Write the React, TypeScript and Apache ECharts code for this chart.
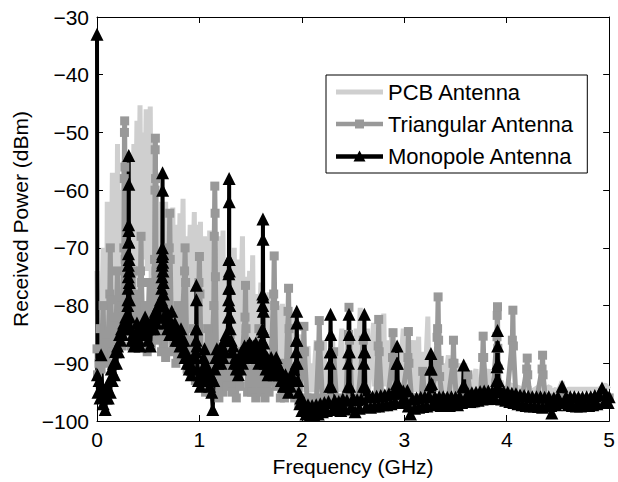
import React, { useEffect, useRef } from "react";
import * as echarts from "echarts";

const FONT = "'Liberation Sans', Arial, Helvetica, sans-serif";

const seriesNames = ["PCB Antenna", "Triangular Antenna", "Monopole Antenna"];
const xRange = [0, 5];
const yRange = [-100, -30];
const xStep = 1;
const yStep = 10;
const axisTitles = ["Frequency (GHz)", "Received Power (dBm)"];

// [frequency GHz, received power dBm]
const pcbLow = [
  [0, -74], [0.008, -88], [0.015, -80], [0.025, -90], [0.03, -78], [0.04, -88], [0.06, -70], [0.07, -86],
  [0.085, -75], [0.095, -87], [0.1, -62], [0.11, -84], [0.125, -70], [0.135, -85], [0.15, -57], [0.16, -82],
  [0.18, -64], [0.19, -84], [0.2, -52], [0.21, -80], [0.23, -60], [0.24, -82], [0.26, -55], [0.27, -80],
  [0.29, -62], [0.3, -82], [0.33, -58], [0.34, -80], [0.36, -52], [0.37, -78], [0.39, -48], [0.4, -76],
  [0.42, -45.3], [0.43, -70], [0.45, -50], [0.46, -72], [0.48, -46], [0.49, -74], [0.52, -45.5], [0.53, -78],
  [0.55, -60], [0.56, -80], [0.58, -57], [0.59, -80], [0.61, -62], [0.62, -82], [0.64, -66], [0.65, -80],
  [0.67, -62], [0.68, -82], [0.71, -64], [0.72, -84], [0.74, -63], [0.75, -82], [0.78, -66], [0.79, -84],
  [0.81, -64], [0.82, -86], [0.84, -61.5], [0.85, -84], [0.87, -68], [0.88, -86], [0.91, -66], [0.92, -88],
  [0.95, -63.8], [0.96, -86], [0.98, -66], [0.99, -88],
];
const pcbMid = [
  [1.01, -65.5], [1.02, -86], [1.05, -68], [1.06, -88], [1.08, -72], [1.09, -88], [1.1, -67], [1.11, -90],
  [1.13, -72], [1.14, -88], [1.17, -70], [1.18, -90], [1.2, -68], [1.21, -88], [1.23, -67], [1.24, -90],
  [1.26, -73], [1.27, -90], [1.3, -75], [1.31, -92], [1.34, -70], [1.35, -90], [1.38, -72], [1.39, -92],
  [1.42, -68], [1.43, -90], [1.45, -75], [1.46, -92], [1.49, -74], [1.5, -91], [1.52, -71.3], [1.53, -92],
  [1.56, -78], [1.57, -92], [1.6, -76], [1.61, -93], [1.64, -80], [1.65, -93], [1.68, -77.7], [1.69, -93],
  [1.72, -82], [1.73, -94], [1.76, -80], [1.77, -94], [1.81, -79.7], [1.82, -94], [1.85, -84], [1.86, -95],
  [1.9, -82], [1.91, -95], [1.94, -86], [1.95, -95], [1.98, -85], [1.99, -95],
];
const pcbHigh = [
  [2.02, -88], [2.03, -95], [2.06, -87], [2.07, -95], [2.1, -90], [2.11, -95], [2.14, -86], [2.15, -95],
  [2.18, -89], [2.19, -95], [2.22, -86], [2.23, -95], [2.26, -90], [2.27, -95], [2.3, -85], [2.31, -95],
  [2.34, -88], [2.35, -95], [2.39, -84], [2.4, -95], [2.43, -89], [2.44, -95], [2.5, -86], [2.51, -95],
  [2.53, -84], [2.54, -95], [2.57, -80.4], [2.58, -94], [2.6, -86], [2.61, -95], [2.64, -84], [2.65, -95],
  [2.7, -83], [2.71, -94], [2.74, -88], [2.75, -95], [2.8, -81.4], [2.81, -94], [2.84, -86], [2.85, -95],
  [2.88, -84], [2.89, -95], [2.94, -88], [2.95, -95], [2.99, -84], [3, -94], [3.04, -89], [3.05, -95],
  [3.09, -86], [3.1, -95], [3.14, -85.4], [3.15, -95], [3.19, -88], [3.2, -95], [3.23, -81.9], [3.24, -94],
  [3.28, -88], [3.29, -95], [3.33, -86], [3.34, -95], [3.38, -90], [3.39, -95], [3.43, -88.6], [3.44, -95],
  [3.48, -91], [3.49, -95], [3.53, -90], [3.54, -95], [3.59, -90], [3.6, -95], [3.64, -92], [3.65, -95],
  [3.7, -91], [3.71, -95], [3.76, -92], [3.77, -95], [3.82, -91], [3.83, -95], [3.88, -92.5], [3.89, -95],
  [3.95, -93], [3.96, -95], [4.04, -93.5], [4.05, -95], [4.12, -94], [4.13, -95], [4.22, -94], [4.23, -95],
  [4.32, -94], [4.33, -95], [4.42, -94], [4.43, -95], [4.48, -94.5], [4.5, -95], [4.54, -93.2], [4.56, -95],
  [4.6, -94.5], [4.7, -94.5], [4.8, -94.5], [4.9, -94.5], [4.96, -93.7], [5, -94.5],
];

const triLow = [
  [0, -87.5], [0.005, -92], [0.02, -90], [0.03, -84], [0.04, -91], [0.06, -80], [0.07, -89], [0.09, -85],
  [0.1, -90], [0.125, -78], [0.13, -70], [0.135, -79], [0.15, -88], [0.17, -82], [0.18, -88], [0.2, -74],
  [0.21, -86], [0.23, -80], [0.24, -87], [0.262, -70], [0.266, -58], [0.268, -50], [0.27, -48], [0.272, -56],
  [0.275, -72], [0.29, -84], [0.31, -80], [0.33, -87], [0.35, -74], [0.37, -86], [0.39, -78], [0.41, -85],
  [0.425, -74], [0.43, -68], [0.435, -76], [0.45, -86], [0.47, -80], [0.49, -88], [0.51, -76], [0.53, -87],
  [0.562, -72], [0.566, -60], [0.568, -53], [0.57, -51], [0.572, -58], [0.576, -74], [0.59, -86], [0.61, -80],
  [0.63, -88], [0.65, -78], [0.67, -89], [0.69, -80], [0.705, -70], [0.71, -64], [0.715, -72], [0.73, -88],
  [0.75, -82], [0.77, -90], [0.79, -80], [0.81, -89], [0.83, -84], [0.855, -74], [0.86, -70], [0.865, -76],
  [0.88, -91], [0.9, -86], [0.92, -92], [0.94, -84], [0.96, -93], [0.98, -88], [0.995, -76], [1, -71.5],
  [1.005, -78],
];
const triMid = [
  [1.02, -93], [1.04, -89], [1.06, -95], [1.08, -84], [1.1, -95], [1.12, -90], [1.14, -80], [1.145, -68],
  [1.15, -59.3], [1.153, -64], [1.156, -75], [1.17, -92], [1.19, -96], [1.21, -90], [1.23, -95], [1.25, -88],
  [1.27, -94], [1.3, -85], [1.32, -95], [1.34, -91], [1.36, -96], [1.38, -90], [1.4, -94], [1.42, -88],
  [1.445, -82], [1.45, -76.5], [1.455, -84], [1.47, -95], [1.49, -91], [1.51, -95], [1.53, -89], [1.55, -96],
  [1.58, -84], [1.6, -95], [1.62, -92], [1.64, -96], [1.66, -91], [1.68, -95], [1.7, -89], [1.725, -78],
  [1.73, -71.4], [1.735, -80], [1.75, -94], [1.77, -90], [1.79, -96], [1.81, -92], [1.83, -96], [1.85, -90],
  [1.865, -81], [1.87, -77], [1.875, -84], [1.89, -95], [1.91, -93], [1.93, -96], [1.95, -94], [1.97, -97],
];
const triHigh = [
  [2.015, -88], [2.02, -83.6], [2.025, -88], [2.05, -96], [2.08, -97], [2.11, -96], [2.14, -97], [2.165, -87],
  [2.17, -82.6], [2.175, -87], [2.2, -96], [2.23, -97], [2.26, -96], [2.31, -88], [2.34, -97], [2.37, -96],
  [2.4, -97], [2.43, -96], [2.455, -85], [2.46, -80.3], [2.465, -86], [2.49, -96.5], [2.52, -97], [2.55, -96],
  [2.6, -86], [2.63, -96.5], [2.66, -97], [2.69, -96], [2.72, -96.5], [2.745, -87], [2.75, -82.4], [2.755, -88],
  [2.78, -96], [2.81, -97], [2.84, -96], [2.885, -89], [2.89, -84.7], [2.895, -89], [2.92, -96], [2.95, -97],
  [2.98, -96], [3.035, -89], [3.04, -84.5], [3.045, -90], [3.07, -96], [3.1, -97], [3.13, -96], [3.16, -97],
  [3.18, -91.4], [3.2, -96.5], [3.23, -97], [3.26, -96], [3.3, -92], [3.32, -85.5], [3.325, -84], [3.33, -78.5],
  [3.335, -86], [3.34, -89.5], [3.345, -92.3], [3.37, -96], [3.4, -97], [3.43, -96], [3.475, -90], [3.48, -86],
  [3.485, -90], [3.51, -96.5], [3.54, -97], [3.57, -96], [3.62, -92], [3.65, -96.5], [3.68, -97], [3.71, -96],
  [3.74, -96.5], [3.765, -89], [3.77, -85.3], [3.775, -89], [3.8, -96], [3.83, -96.5], [3.86, -96], [3.905, -85.4],
  [3.907, -81.7], [3.91, -80.2], [3.913, -87.4], [3.917, -91], [3.94, -96], [3.97, -96.5], [4, -96], [4.055, -86],
  [4.06, -80.8], [4.065, -87], [4.09, -96], [4.12, -96.5], [4.15, -96], [4.195, -91], [4.2, -89.1], [4.205, -92],
  [4.23, -96.5], [4.26, -96], [4.29, -96.5], [4.345, -91], [4.35, -88.6], [4.355, -92], [4.38, -96.5], [4.42, -96],
  [4.46, -96.5], [4.5, -96], [4.55, -96], [4.6, -96.5], [4.65, -96.5], [4.7, -96], [4.75, -96.5], [4.8, -96.5],
  [4.85, -96], [4.9, -96], [4.95, -96.5], [5, -96],
];

const monoLow = [
  [0, -33], [0.004, -92], [0.01, -95], [0.02, -93], [0.03, -96], [0.04, -88.5], [0.05, -94], [0.06, -97],
  [0.07, -95], [0.08, -98], [0.09, -96], [0.1, -94], [0.11, -96], [0.12, -93], [0.13, -95], [0.14, -91],
  [0.15, -93], [0.16, -90], [0.17, -92], [0.18, -88], [0.19, -90], [0.2, -87], [0.21, -88], [0.22, -85],
  [0.23, -86], [0.24, -84], [0.25, -85], [0.26, -83], [0.27, -84], [0.28, -82], [0.29, -83], [0.3, -80],
  [0.302, -79], [0.304, -77], [0.305, -75], [0.306, -73], [0.307, -71], [0.308, -69], [0.309, -66], [0.31, -54],
  [0.3105, -59], [0.311, -67], [0.312, -69], [0.313, -72], [0.314, -74], [0.315, -76], [0.317, -79], [0.32, -82],
  [0.33, -84], [0.34, -86], [0.35, -85], [0.36, -87], [0.37, -86], [0.38, -85],
  [0.39, -83], [0.4, -84], [0.41, -86], [0.42, -87], [0.43, -85], [0.44, -84], [0.45, -83], [0.46, -85],
  [0.47, -82], [0.48, -84], [0.49, -83], [0.5, -86], [0.51, -84], [0.52, -87], [0.53, -83], [0.54, -84],
  [0.55, -82], [0.56, -84], [0.57, -81], [0.58, -83], [0.59, -82], [0.6, -80], [0.61, -82], [0.62, -79],
  [0.63, -79], [0.632, -77], [0.634, -75], [0.636, -73], [0.637, -71.5], [0.638, -70], [0.64, -57], [0.6405, -60],
  [0.641, -71], [0.642, -72.5], [0.644, -74], [0.646, -76], [0.648, -78], [0.65, -80],
  [0.66, -82], [0.67, -83], [0.68, -81], [0.69, -84], [0.7, -82], [0.71, -85], [0.72, -83], [0.73, -81],
  [0.74, -84], [0.75, -85], [0.76, -83], [0.77, -86], [0.78, -84], [0.79, -86], [0.8, -85], [0.81, -87],
  [0.82, -84], [0.83, -86], [0.84, -88], [0.85, -86], [0.86, -89], [0.87, -88], [0.88, -90], [0.89, -89],
  [0.9, -91], [0.91, -90], [0.92, -92], [0.93, -91], [0.94, -89], [0.965, -88], [0.967, -86], [0.968, -84],
  [0.97, -76.5], [0.971, -79], [0.973, -84], [0.975, -87], [0.98, -91], [0.99, -93],
];
const monoMid = [
  [1, -92], [1.01, -94], [1.02, -93], [1.03, -91], [1.04, -89], [1.05, -87.5], [1.06, -90], [1.07, -92],
  [1.08, -91], [1.09, -93], [1.1, -94], [1.11, -92], [1.12, -95], [1.13, -98], [1.14, -93], [1.15, -91],
  [1.16, -89], [1.17, -87.5], [1.18, -90], [1.19, -89], [1.2, -88], [1.21, -90], [1.22, -87], [1.23, -89],
  [1.24, -86], [1.25, -88], [1.26, -85], [1.27, -86], [1.283, -82], [1.285, -79], [1.286, -77], [1.287, -74.5],
  [1.288, -72], [1.29, -58], [1.2905, -62], [1.291, -72], [1.292, -74], [1.294, -77], [1.296, -80], [1.298, -82],
  [1.3, -84], [1.31, -86], [1.32, -88], [1.33, -87], [1.34, -90],
  [1.35, -89], [1.36, -91], [1.37, -90], [1.38, -92], [1.39, -89], [1.4, -91], [1.41, -88], [1.42, -90],
  [1.43, -89], [1.44, -87], [1.45, -89], [1.46, -88], [1.47, -87], [1.48, -89], [1.49, -86.5], [1.5, -88],
  [1.51, -87], [1.52, -89], [1.53, -87], [1.54, -88], [1.55, -86.5], [1.56, -89], [1.57, -88], [1.58, -90],
  [1.59, -89], [1.6, -88], [1.613, -86], [1.615, -84], [1.617, -80], [1.618, -78], [1.62, -65], [1.6205, -68.5],
  [1.622, -78.5], [1.624, -81], [1.626, -84.5], [1.628, -86.5], [1.63, -88], [1.64, -90], [1.65, -91], [1.66, -89],
  [1.67, -92], [1.68, -90], [1.69, -91],
  [1.7, -89], [1.71, -91], [1.72, -90], [1.73, -92], [1.74, -90], [1.75, -89], [1.76, -90], [1.77, -91],
  [1.78, -92], [1.79, -91], [1.8, -93], [1.81, -92], [1.82, -94], [1.83, -93], [1.84, -92], [1.85, -94],
  [1.86, -93], [1.87, -95], [1.88, -93], [1.89, -94], [1.9, -92], [1.91, -93], [1.92, -91], [1.944, -90],
  [1.946, -88], [1.947, -86], [1.95, -81], [1.951, -83], [1.952, -86], [1.955, -90], [1.96, -93], [1.97, -95],
  [1.98, -97], [1.99, -96],
];
const monoHigh = [
  [2, -98.2], [2.02, -96.8], [2.04, -98.8], [2.06, -97.2], [2.08, -99], [2.1, -97.3], [2.12, -99], [2.14, -97.2],
  [2.16, -98.8], [2.18, -97], [2.2, -98.4], [2.22, -96.8], [2.24, -98.2], [2.26, -96.6], [2.272, -94], [2.275, -90],
  [2.277, -88], [2.28, -81.5], [2.282, -85], [2.284, -88], [2.287, -94], [2.3, -98], [2.32, -96.4], [2.34, -98],
  [2.36, -96.6], [2.38, -98.2], [2.4, -96.2], [2.42, -97.9], [2.44, -96.4], [2.452, -94], [2.455, -90], [2.457, -88],
  [2.46, -81.5], [2.462, -85], [2.464, -88], [2.467, -94], [2.48, -97.6], [2.5, -96], [2.52, -98.4], [2.54, -96.3],
  [2.56, -97.8], [2.58, -96.2], [2.602, -94], [2.605, -90], [2.607, -88], [2.61, -81.5], [2.612, -85], [2.614, -88],
  [2.617, -94], [2.63, -97.5], [2.65, -95.6], [2.67, -97.6], [2.69, -95.8], [2.71, -97.4], [2.73, -95.7], [2.75, -97.4],
  [2.77, -95.6], [2.79, -97.2], [2.81, -95.5], [2.83, -97.2], [2.85, -95.3], [2.87, -97], [2.89, -95.2], [2.91, -96.6],
  [2.924, -93.5], [2.927, -90], [2.93, -87], [2.933, -90], [2.936, -93.5], [2.95, -95.2], [2.97, -96.8], [2.99, -94.8],
  [3.01, -96.2], [3.03, -94.7], [3.04, -97.4], [3.06, -98.8], [3.08, -96.2], [3.1, -97.8], [3.12, -96], [3.14, -97.6],
  [3.16, -95.9], [3.18, -97.5], [3.2, -95.8], [3.22, -97.4], [3.24, -95.6], [3.254, -93.7], [3.257, -91], [3.26, -88.3],
  [3.263, -91], [3.266, -93.5], [3.28, -97], [3.3, -95.8], [3.32, -97.2], [3.34, -95.8], [3.36, -97.3], [3.38, -95.8],
  [3.4, -97.2], [3.42, -95.9], [3.44, -97.3], [3.46, -95.8], [3.48, -97], [3.5, -95.9], [3.52, -97.2], [3.54, -95.7],
  [3.56, -96.8], [3.574, -94], [3.58, -90.3], [3.586, -94], [3.6, -96.6], [3.62, -95.2], [3.64, -96.6], [3.66, -95.1],
  [3.68, -96.5], [3.7, -95], [3.72, -96.4], [3.74, -94.9], [3.76, -96.2], [3.78, -94.8], [3.8, -96], [3.82, -94.8],
  [3.84, -96.1], [3.86, -94.9], [3.88, -96], [3.902, -93], [3.905, -90.6], [3.91, -84.3], [3.912, -87], [3.914, -90],
  [3.918, -93], [3.93, -94.6], [3.95, -96.2], [3.97, -94.9], [3.99, -96.4], [4.01, -95], [4.03, -96.6], [4.05, -95.2],
  [4.07, -96.8], [4.09, -95.3], [4.11, -97], [4.13, -95.5], [4.15, -97.2], [4.17, -95.6], [4.19, -97.3], [4.21, -95.7],
  [4.23, -97.4], [4.25, -95.8], [4.27, -97.4], [4.29, -95.8], [4.31, -97.5], [4.33, -95.8], [4.35, -97.6], [4.37, -95.9],
  [4.39, -97.4], [4.41, -95.8], [4.43, -97.3], [4.44, -98.6], [4.46, -96], [4.48, -97.2], [4.5, -95.8], [4.52, -96.8],
  [4.54, -94], [4.56, -96.8], [4.58, -95.8], [4.6, -97.2], [4.62, -95.8], [4.64, -97.3], [4.66, -95.8], [4.68, -97.4],
  [4.7, -95.9], [4.72, -97.4], [4.74, -95.9], [4.76, -97.3], [4.78, -95.8], [4.8, -97.3], [4.82, -95.8], [4.84, -97.2],
  [4.86, -95.6], [4.88, -97], [4.9, -95.4], [4.93, -94.3], [4.95, -96.8], [4.97, -95.4], [4.99, -96.8], [5, -95.8],
];

const pcbData = [...pcbLow, ...pcbMid, ...pcbHigh];
const triData = [...triLow, ...triMid, ...triHigh];
const monoData = [...monoLow, ...monoMid, ...monoHigh];

const legendIcons = [
  "path://M0,4.5 H47 V9.5 H0 Z",
  "path://M0,4.8 H47 V9.2 H0 Z M19,2.5 H28 V11.5 H19 Z",
  "path://M0,4.8 H47 V9.2 H0 Z M23.5,1 L29.5,12 L17.5,12 Z",
];

const minusFmt = (v: number) => String(v).replace("-", "\u2212");

export default function App() {
  const ref = useRef<HTMLDivElement>(null);
  useEffect(() => {
    if (!ref.current) return;
    const chart = echarts.init(ref.current, null, { renderer: "svg" });
    const axisCommon = {
      axisLine: { show: true, onZero: false, lineStyle: { color: "#000", width: 1 } },
      axisTick: { show: true, inside: true, length: 6, lineStyle: { color: "#000", width: 1 } },
      splitLine: { show: false },
    };
    const labelStyle = { color: "#000", fontSize: 21, fontFamily: FONT };
    chart.setOption({
      animation: false,
      backgroundColor: "#fff",
      grid: { left: 97, right: 5, top: 17, bottom: 59, containLabel: false },
      legend: {
        orient: "vertical",
        left: 326,
        top: 75,
        padding: [6, 13, 6, 10],
        itemGap: 10,
        itemWidth: 47,
        itemHeight: 14,
        symbolKeepAspect: true,
        backgroundColor: "#fff",
        borderColor: "#000",
        borderWidth: 1,
        borderRadius: 0,
        textStyle: { color: "#000", fontSize: 22, fontFamily: FONT, lineHeight: 22 },
        data: seriesNames.map((name, i) => ({ name, icon: legendIcons[i] })),
      },
      xAxis: [
        {
          type: "value", min: xRange[0], max: xRange[1], interval: xStep, position: "bottom",
          ...axisCommon,
          axisLabel: { ...labelStyle, margin: 8 },
          name: axisTitles[0], nameLocation: "middle", nameGap: 35,
          nameTextStyle: labelStyle,
        },
        {
          type: "value", min: xRange[0], max: xRange[1], interval: xStep, position: "top",
          ...axisCommon, axisLabel: { show: false },
        },
      ],
      yAxis: [
        {
          type: "value", min: yRange[0], max: yRange[1], interval: yStep, position: "left",
          ...axisCommon,
          axisLabel: { ...labelStyle, margin: 8, formatter: minusFmt },
          name: axisTitles[1], nameLocation: "middle", nameGap: 62,
          nameTextStyle: labelStyle,
        },
        {
          type: "value", min: yRange[0], max: yRange[1], interval: yStep, position: "right",
          ...axisCommon, axisLabel: { show: false },
        },
      ],
      series: [
        {
          name: seriesNames[0], type: "line", data: pcbData, xAxisIndex: 0, yAxisIndex: 0,
          symbol: "none", lineStyle: { color: "#cfcfcf", width: 5 }, itemStyle: { color: "#cfcfcf" },
          silent: true, emphasis: { disabled: true },
        },
        {
          name: seriesNames[1], type: "line", data: triData, xAxisIndex: 0, yAxisIndex: 0,
          symbol: "rect", symbolSize: 9, showAllSymbol: true,
          lineStyle: { color: "#999999", width: 5 }, itemStyle: { color: "#999999" },
          silent: true, emphasis: { disabled: true },
        },
        {
          name: seriesNames[2], type: "line", data: monoData, xAxisIndex: 0, yAxisIndex: 0,
          symbol: "triangle", symbolSize: 13, showAllSymbol: true,
          lineStyle: { color: "#000", width: 4 }, itemStyle: { color: "#000" },
          silent: true, emphasis: { disabled: true },
        },
      ],
    });
    return () => chart.dispose();
  }, []);
  return <div ref={ref} style={{ position: "fixed", left: 0, top: 0, width: 618, height: 482 }} />;
}
